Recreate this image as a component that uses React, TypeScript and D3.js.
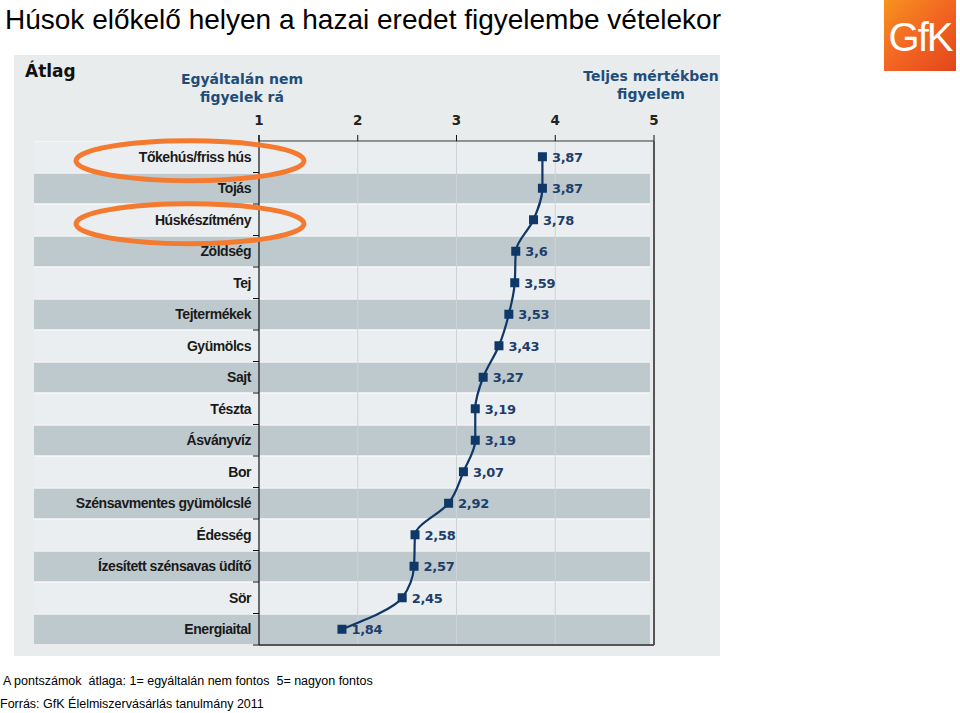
import React from "react";
import * as d3 from "d3";

const title = "Húsok előkelő helyen a hazai eredet figyelembe vételekor";
const categories = [
  "Tőkehús/friss hús", "Tojás", "Húskészítmény", "Zöldség", "Tej", "Tejtermékek",
  "Gyümölcs", "Sajt", "Tészta", "Ásványvíz", "Bor", "Szénsavmentes gyümölcslé",
  "Édesség", "Ízesített szénsavas üdítő", "Sör", "Energiaital",
];
const values = [3.87, 3.87, 3.78, 3.6, 3.59, 3.53, 3.43, 3.27, 3.19, 3.19, 3.07, 2.92, 2.58, 2.57, 2.45, 1.84];
const valueLabels = ["3,87", "3,87", "3,78", "3,6", "3,59", "3,53", "3,43", "3,27", "3,19", "3,19", "3,07", "2,92", "2,58", "2,57", "2,45", "1,84"];
const xTicks = [1, 2, 3, 4, 5];
const highlighted = ["Tőkehús/friss hús", "Húskészítmény"];
const leftHeader = ["Egyáltalán nem", "figyelek rá"];
const rightHeader = ["Teljes mértékben", "figyelem"];
const note = "A pontszámok  átlaga: 1= egyáltalán nem fontos  5= nagyon fontos";
const source = "Forrás: GfK Élelmiszervásárlás tanulmány 2011";

const W = 960, H = 713;
const plotL = 259, plotR = 654, plotT = 141, plotB = 645;
const navy = "#0f3768";
const labelFont = "'DejaVu Sans', Verdana, sans-serif";
const catFont = "'Liberation Sans', Arial, sans-serif";

export default function App() {
  const x = d3.scaleLinear().domain([1, 5]).range([plotL, plotR]);
  const y = d3.scaleBand().domain(categories).range([plotT, plotB]).padding(0);
  const bw = y.bandwidth();
  const cy = (c: string) => (y(c) as number) + bw / 2;
  const pts: [number, number][] = categories.map((c, i) => [x(values[i]), cy(c)]);
  const line = d3.line().curve(d3.curveMonotoneY)(pts) || "";

  return (
    <div style={{ position: "absolute", left: 0, top: 0, width: W, height: H, background: "#fff" }}>
      <svg width={W} height={H} style={{ display: "block" }}>
        <defs>
          <linearGradient id="gfk" x1="0" y1="0" x2="1" y2="1">
            <stop offset="0" stopColor="#f7931e" />
            <stop offset="0.5" stopColor="#f26522" />
            <stop offset="1" stopColor="#e2461b" />
          </linearGradient>
        </defs>
        <text x={5} y={29} fontFamily="'Liberation Sans', Arial, sans-serif" fontSize={28} fill="#000">{title}</text>

        {/* logo */}
        <rect x={884} y={0} width={72} height={71} fill="url(#gfk)" />
        <text x={920} y={51} textAnchor="middle" fontFamily="'Liberation Sans', Arial, sans-serif" fontSize={40} letterSpacing={-2} fill="#fff">GfK</text>

        {/* panel */}
        <rect x={14} y={55} width={706} height={601} fill="#e9eced" />
        <text x={25} y={77} fontFamily={labelFont} fontWeight="bold" fontSize={17} fill="#111">Átlag</text>
        {leftHeader.map((t, i) => (
          <text key={t} x={242} y={84 + i * 18} textAnchor="middle" fontFamily={labelFont} fontWeight="bold" fontSize={14} fill="#1f4d7a">{t}</text>
        ))}
        {rightHeader.map((t, i) => (
          <text key={t} x={651} y={81 + i * 18} textAnchor="middle" fontFamily={labelFont} fontWeight="bold" fontSize={14} fill="#1f4d7a">{t}</text>
        ))}

        {/* rows */}
        {categories.map((c, i) => (
          <g key={c}>
            <rect x={34} y={(y(c) as number) + 1} width={616} height={bw - 2} fill={i % 2 === 1 ? "#bec9ce" : "#ebeef0"} />
            <line x1={34} x2={650} y1={(y(c) as number) + 0.5} y2={(y(c) as number) + 0.5} stroke="#f4f6f7" strokeWidth={1} />
          </g>
        ))}
        {/* gridlines */}
        {xTicks.slice(1, -1).map((t) => (
          <line key={t} x1={x(t)} x2={x(t)} y1={plotT} y2={plotB} stroke="#cdd3d6" strokeWidth={1} />
        ))}
        {/* frame */}
        <line x1={plotL} x2={plotR} y1={plotT} y2={plotT} stroke="#333" strokeWidth={1} />
        <line x1={plotR} x2={plotR} y1={plotT} y2={plotB} stroke="#555" strokeWidth={2} />
        <line x1={plotL} x2={plotR} y1={plotB} y2={plotB} stroke="#555" strokeWidth={2} />
        <line x1={plotL} x2={plotL} y1={plotT - 6} y2={plotB} stroke="#111" strokeWidth={1.2} />
        {xTicks.map((t) => (
          <g key={t}>
            <line x1={x(t)} x2={x(t)} y1={plotT - 6} y2={plotT} stroke="#111" strokeWidth={1} />
            <text x={x(t)} y={125} textAnchor="middle" fontFamily={labelFont} fontWeight="bold" fontSize={13.5} fill="#222">{t}</text>
          </g>
        ))}
        {categories.map((c, i) => (
          <g key={c}>
            <line x1={plotL - 6} x2={plotL} y1={(y(c) as number) + bw} y2={(y(c) as number) + bw} stroke="#111" strokeWidth={1} />
            <text x={251} y={cy(c) + 5} textAnchor="end" fontFamily={catFont} fontWeight="bold" fontSize={14} letterSpacing={-0.45} fill="#1a1a1a">{c}</text>
          </g>
        ))}

        {/* line + markers */}
        <path d={line} fill="none" stroke={navy} strokeWidth={2.2} />
        {categories.map((c, i) => (
          <g key={c}>
            <rect x={x(values[i]) - 4.5} y={cy(c) - 4.5} width={9} height={9} fill={navy} />
            <text x={x(values[i]) + 9.5} y={cy(c) + 5} fontFamily={labelFont} fontWeight="bold" fontSize={13} letterSpacing={-0.3} fill="#1e3e6a">{valueLabels[i]}</text>
          </g>
        ))}

        {/* highlight ellipses */}
        {highlighted.map((c) => (
          <ellipse key={c} cx={190} cy={cy(c) + 4} rx={114} ry={20} fill="none" stroke="#f47a2f" strokeWidth={5} />
        ))}

        <text x={3} y={685} fontFamily="'Liberation Sans', Arial, sans-serif" fontSize={12.5} fill="#000" style={{ whiteSpace: "pre" }}>{note}</text>
        <text x={0} y={708} fontFamily="'Liberation Sans', Arial, sans-serif" fontSize={12.5} fill="#000">{source}</text>
      </svg>
    </div>
  );
}
